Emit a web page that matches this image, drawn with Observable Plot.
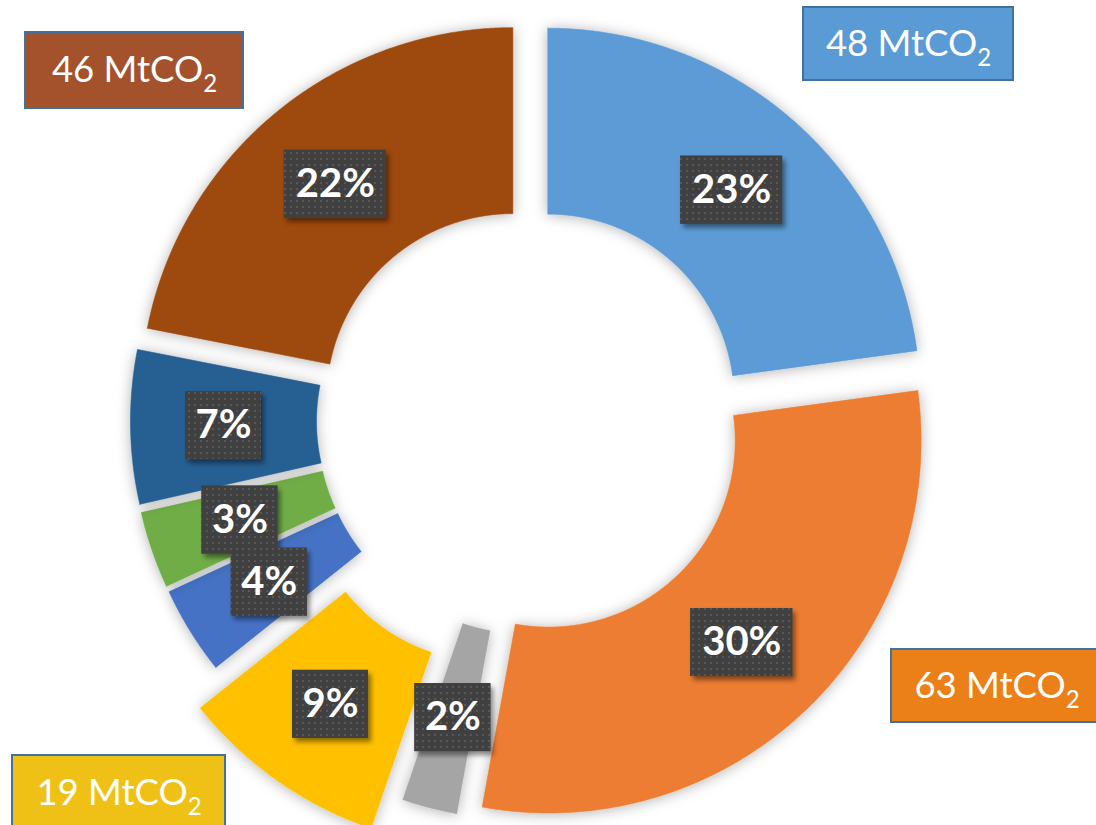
<!DOCTYPE html>
<html>
<head>
<meta charset="utf-8">
<script src="https://cdn.jsdelivr.net/npm/d3@7"></script>
<script src="https://cdn.jsdelivr.net/npm/@observablehq/plot@0.6"></script>
<style>
  html, body { margin: 0; padding: 0; background: #ffffff; overflow: hidden; }
  #chart svg { display: block; }
</style>
</head>
<body>
<div id="chart"></div>
<script>
// ---------- DATA ----------
const segments   = ["Segment 1", "Segment 2", "Segment 3", "Segment 4", "Segment 5", "Segment 6", "Segment 7", "Segment 8"];
const emissions  = [48, 63, 5, 19, 8, 7, 14, 46];          // MtCO2
const calloutSegments = ["Segment 1", "Segment 2", "Segment 4", "Segment 8"];

// ---------- STYLE / LAYOUT ----------
const sliceColors = ["#5B9BD5", "#ED7D31", "#A5A5A5", "#FFC000", "#4472C4", "#70AD47", "#255E91", "#9E480E"];
const explode     = [27, 27, 27, 67, 27, 27, 27, 27];
const calloutStyle = {
  "Segment 1": {fill: "#5B9BD5", box: [803, 7, 1013, 80]},
  "Segment 2": {fill: "#EC8018", box: [891, 649, 1102, 722]},
  "Segment 4": {fill: "#EFC117", box: [12, 755, 225, 830]},
  "Segment 8": {fill: "#A4522C", box: [25, 32, 243, 108]}
};
const W = 1096, H = 825;
const CX = 529.5, CY = 420.5, R_OUT = 372.5, R_IN = 186.5;
const FONT = "Lato, 'Open Sans', 'Noto Sans', sans-serif";

// ---------- GEOMETRY FROM DATA ----------
const total = d3.sum(emissions);
const pie = d3.pie().sort(null).value(d => d)(emissions);

const slices = pie.map((a, i) => {
  const mid = (a.startAngle + a.endAngle) / 2;
  const ox = CX + explode[i] * Math.sin(mid);
  const oy = CY - explode[i] * Math.cos(mid);
  const n = Math.max(4, Math.ceil((a.endAngle - a.startAngle) / 0.004));
  const pts = [];
  for (let k = 0; k <= n; k++) {
    const t = a.startAngle + (a.endAngle - a.startAngle) * k / n;
    pts.push({x: ox + R_OUT * Math.sin(t), y: oy - R_OUT * Math.cos(t)});
  }
  for (let k = n; k >= 0; k--) {
    const t = a.startAngle + (a.endAngle - a.startAngle) * k / n;
    pts.push({x: ox + R_IN * Math.sin(t), y: oy - R_IN * Math.cos(t)});
  }
  pts.push(pts[0]);
  const rm = (R_OUT + R_IN) / 2;
  const label = Math.round(emissions[i] / total * 100) + "%";
  const bw = 24 + 26 * label.length, bh = 68;
  const lx = ox + rm * Math.sin(mid), ly = oy - rm * Math.cos(mid);
  return {name: segments[i], color: sliceColors[i], pts, label, lx, ly,
          x1: lx - bw / 2, x2: lx + bw / 2, y1: ly - bh / 2, y2: ly + bh / 2};
});

const callouts = calloutSegments.map(name => {
  const i = segments.indexOf(name);
  const s = calloutStyle[name];
  return {name, text: emissions[i] + " MtCO", fill: s.fill,
          x1: s.box[0], y1: s.box[1], x2: s.box[2], y2: s.box[3],
          cx: (s.box[0] + s.box[2]) / 2, cy: (s.box[1] + s.box[3]) / 2};
});

// render helpers
const withFilter = id => (index, scales, values, dims, context, next) => {
  const g = next(index, scales, values, dims, context);
  if (g) g.setAttribute("filter", `url(#${id})`);
  return g;
};
const withSubscript = (index, scales, values, dims, context, next) => {
  const g = next(index, scales, values, dims, context);
  if (g) d3.select(g).selectAll("text").each(function () {
    d3.select(this).append("tspan").attr("font-size", "0.66em").attr("dy", "10").text("2");
  });
  return g;
};

// ---------- PLOT ----------
const chart = Plot.plot({
  width: W, height: H, margin: 0,
  style: {background: "#ffffff", overflow: "hidden"},
  x: {domain: [0, W], axis: null},
  y: {domain: [H, 0], axis: null},
  color: {type: "identity"},
  marks: [
    ...slices.map(s => Plot.line(s.pts, {x: "x", y: "y", fill: s.color, stroke: s.color, strokeWidth: 0.6,
                                         render: withFilter("sliceShadow")})),
    Plot.rect(slices, {x1: "x1", x2: "x2", y1: "y1", y2: "y2", fill: "#404040", render: withFilter("boxShadow")}),
    Plot.rect(slices, {x1: "x1", x2: "x2", y1: "y1", y2: "y2", fill: "url(#dots)"}),
    Plot.text(slices, {x: "lx", y: "ly", text: "label", fill: "#ffffff", fontSize: 40, fontWeight: "bold",
                       fontFamily: FONT, textAnchor: "middle", lineAnchor: "middle"}),
    Plot.rect(callouts, {x1: "x1", x2: "x2", y1: "y1", y2: "y2", fill: "fill", stroke: "#41719C", strokeWidth: 2}),
    Plot.text(callouts, {x: "cx", y: "cy", text: "text", fill: "#ffffff", fontSize: 36.5,
                         fontFamily: FONT, textAnchor: "middle", lineAnchor: "middle", render: withSubscript})
  ]
});

// defs: shadows and dotted texture
const svg = d3.select(chart);
const defs = svg.insert("defs", ":first-child");
const f1 = defs.append("filter").attr("id", "sliceShadow")
  .attr("x", "-20%").attr("y", "-20%").attr("width", "140%").attr("height", "140%");
f1.append("feDropShadow").attr("dx", 0).attr("dy", 1).attr("stdDeviation", 7)
  .attr("flood-color", "#000").attr("flood-opacity", 0.3);
const f2 = defs.append("filter").attr("id", "boxShadow")
  .attr("x", "-20%").attr("y", "-20%").attr("width", "150%").attr("height", "150%");
f2.append("feDropShadow").attr("dx", 3).attr("dy", 4).attr("stdDeviation", 2.5)
  .attr("flood-color", "#000").attr("flood-opacity", 0.45);
const pat = defs.append("pattern").attr("id", "dots").attr("width", 6).attr("height", 6)
  .attr("patternUnits", "userSpaceOnUse");
pat.append("rect").attr("width", 6).attr("height", 6).attr("fill", "#404040");
pat.append("rect").attr("x", 2).attr("y", 2).attr("width", 2).attr("height", 2).attr("fill", "#575757");

document.getElementById("chart").appendChild(chart);
</script>
</body>
</html>
